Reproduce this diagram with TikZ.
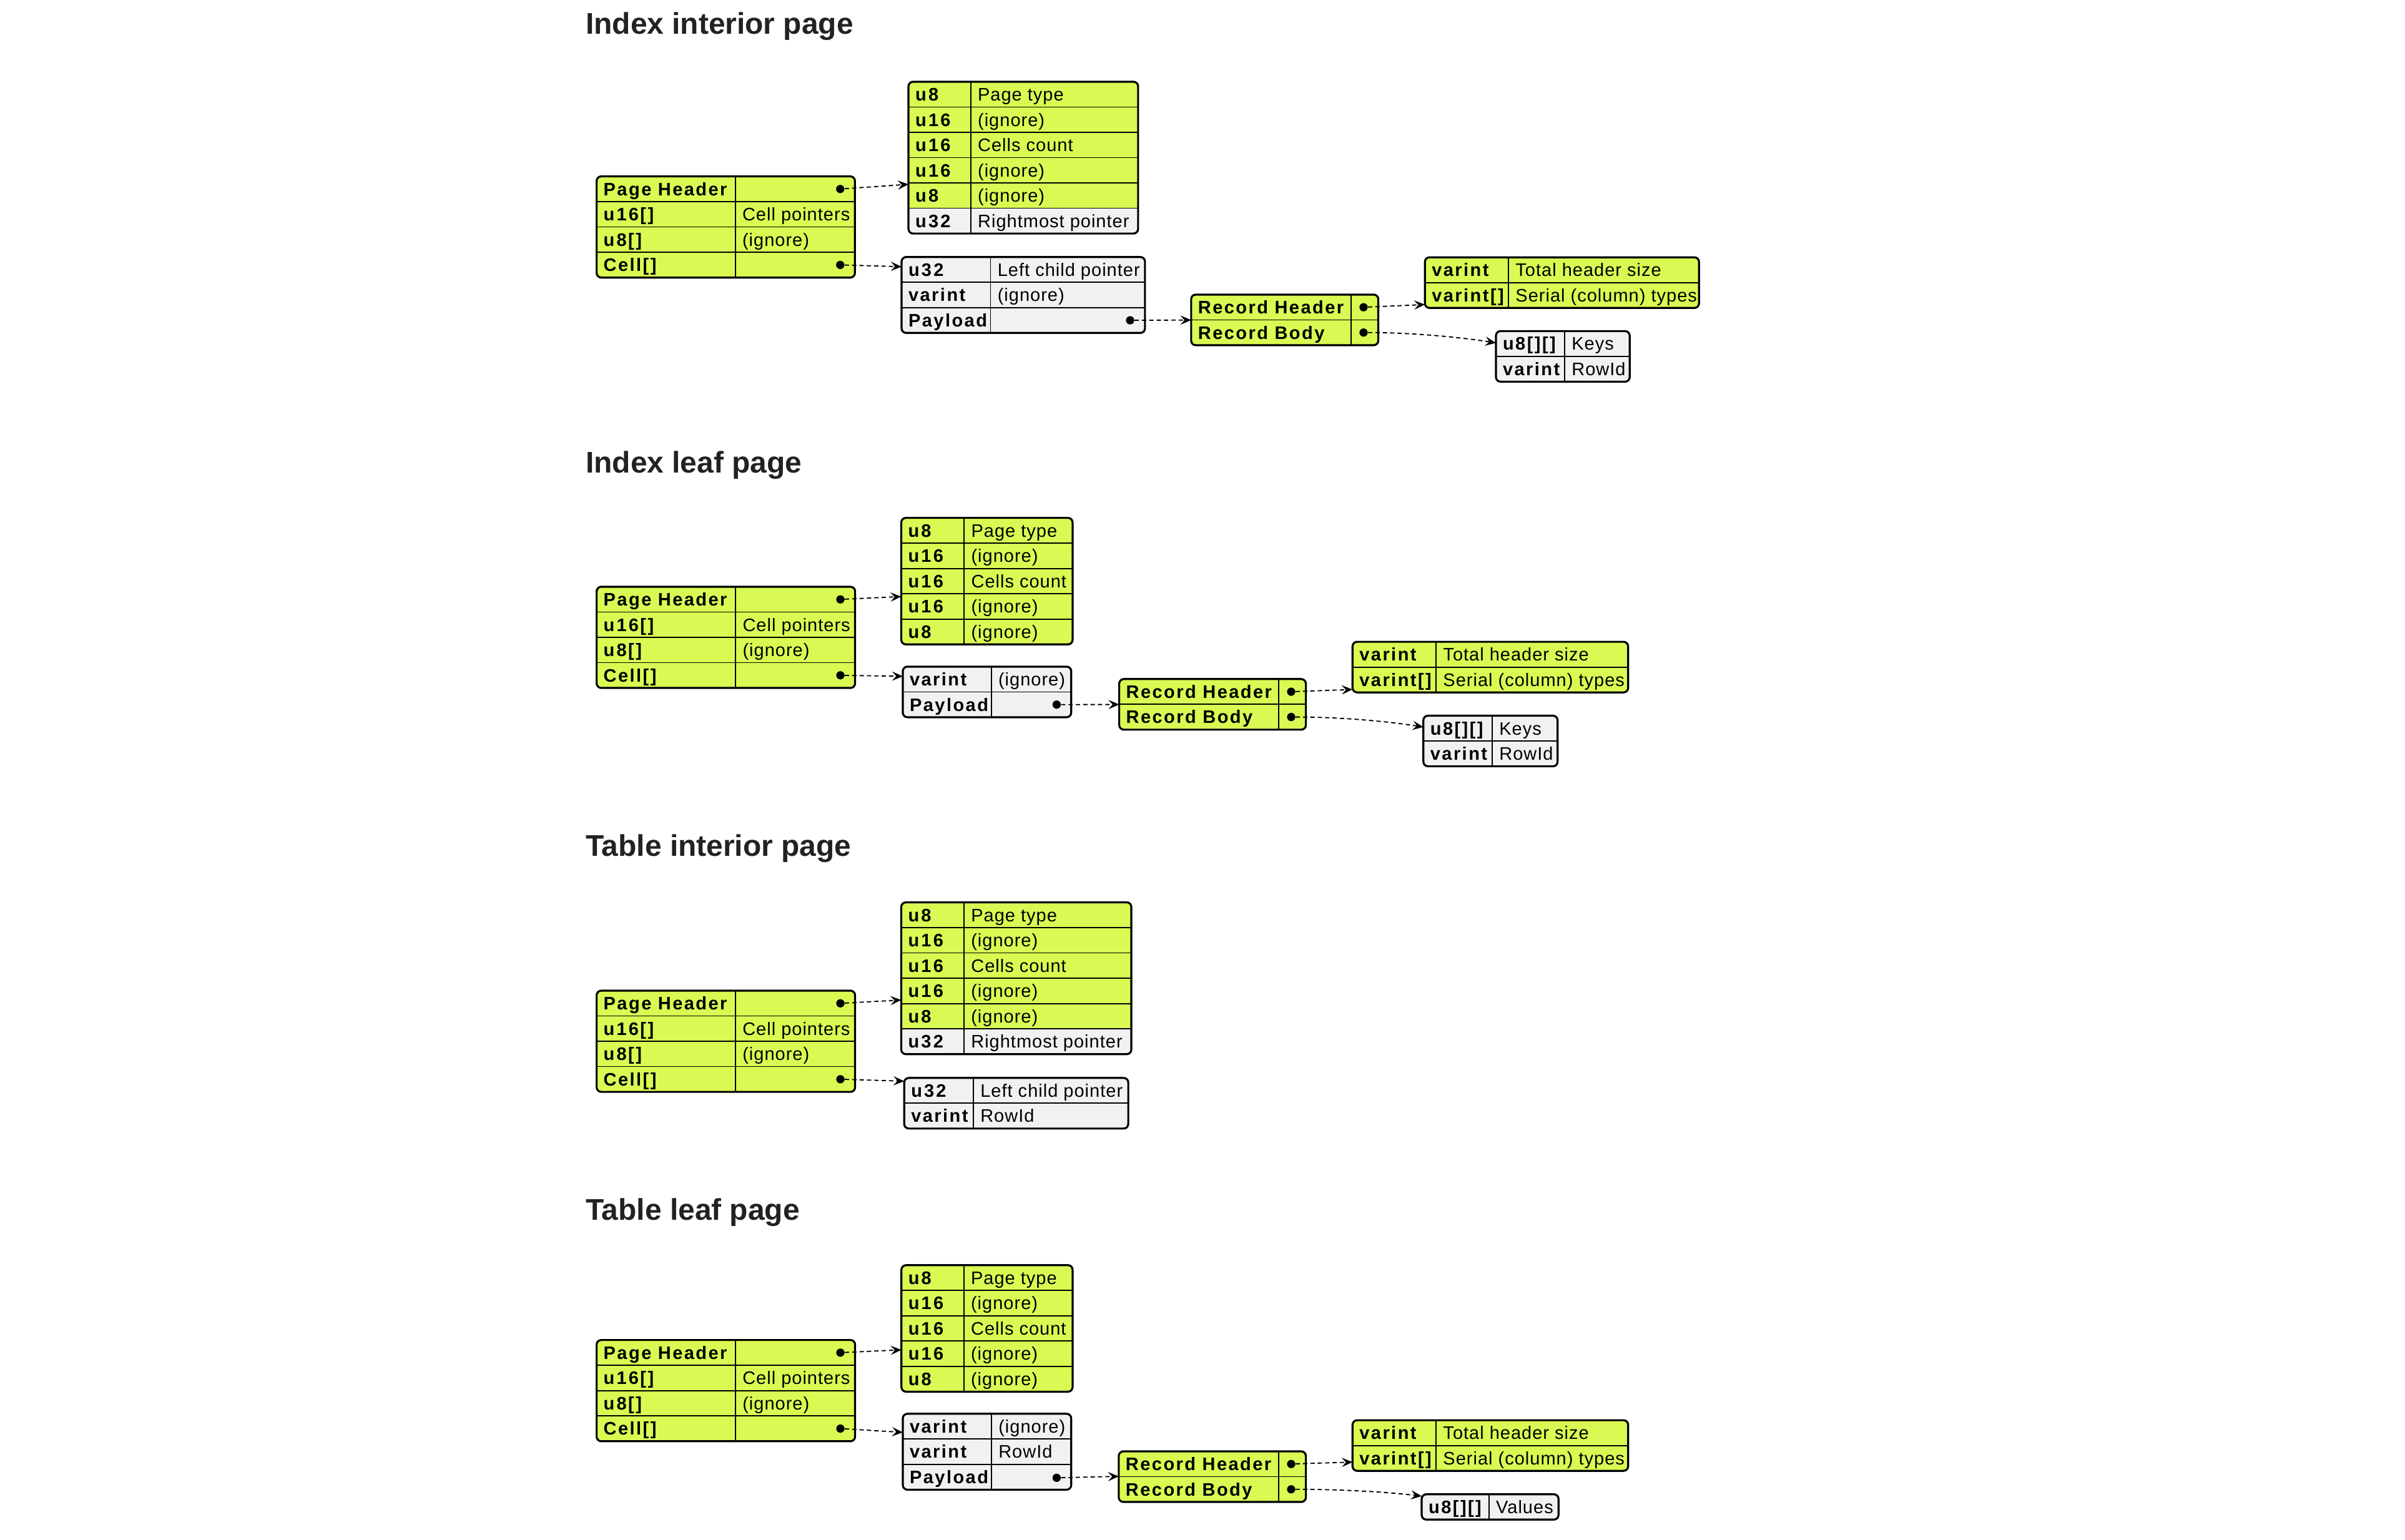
\documentclass[tikz,border=0pt]{standalone}
\usepackage{fontspec}
\setmainfont{Liberation Sans}
\newfontfamily\typefont{Liberation Sans}[LetterSpace=8.5]
\newfontfamily\valfont{Liberation Sans}[LetterSpace=3.5]
\usetikzlibrary{arrows.meta}

\definecolor{rowG}{HTML}{D9FA52}
\definecolor{rowW}{HTML}{F1F1F1}
\definecolor{titleink}{HTML}{222222}

\newcommand{\rowh}{16.5}
% extra tracking between the letters and digits of integer type names
\newcommand{\dk}{\kern1.3pt}

% record table: name, left, top, column divider, right, row count, rows (fill/type/value)
\newcommand{\rectab}[7]{%
  \pgfmathsetmacro{\tabbot}{#3+#6*\rowh}%
  \pgfmathsetmacro{\tabw}{#5-#2}%
  \pgfmathsetmacro{\tabh}{#6*\rowh}%
  \begin{scope}
    \clip[rounded corners=3pt] (#2,#3) rectangle (#5,\tabbot);
    \foreach \c/\t/\v [count=\i from 0] in {#7}{
      \fill[\c] (#2,#3+\i*\rowh) rectangle (#5,#3+\i*\rowh+\rowh);
    }
  \end{scope}
  \foreach \c/\t/\v [count=\i from 0] in {#7}{
    \ifnum\i>0 \draw[rowline] (#2,#3+\i*\rowh) -- (#5,#3+\i*\rowh);\fi
    \node[typetxt] at (#2+4.3,#3+\i*\rowh+12.45) {\t};
    \node[valtxt] at (#4+4.4,#3+\i*\rowh+12.45) {\v};
  }
  \draw[rowline] (#4,#3) -- (#4,\tabbot);
  \node[frame, minimum width=\tabw pt, minimum height=\tabh pt, anchor=north west] (#1) at (#2,#3) {};
}

\tikzset{
  rowline/.style={line width=0.7pt, draw=black},
  frame/.style={draw=black, line width=1.3pt, rounded corners=3pt, inner sep=0pt, outer sep=0pt, fill=none},
  typetxt/.style={anchor=base west, inner sep=0pt, font=\typefont\bfseries\fontsize{11.8}{12}\selectfont},
  valtxt/.style={anchor=base west, inner sep=0pt, font=\valfont\fontsize{11.8}{12}\selectfont},
  sectitle/.style={anchor=base west, inner sep=0pt, text=titleink, font=\bfseries\fontsize{19.5}{20}\selectfont},
  ptrdot/.style={circle, fill=black, inner sep=0pt, minimum size=5.4pt},
  ptr/.style={draw=black, line width=0.75pt, dash pattern=on 2.8pt off 2pt, -{Stealth[length=7pt, width=6pt, inset=2.7pt]}},
}

\begin{document}
\begin{tikzpicture}[x=1pt, y=-1pt]
\useasboundingbox (0,0) rectangle (1568,1004);

% ---------------- Index interior page ----------------
\node[sectitle] (t-a) at (381.7,22.3) {Index interior page};
\rectab{a-ph}{389}{115}{479.4}{557.4}{4}{rowG/Page Header/{}, rowG/u\dk1\dk6[]/Cell pointers, rowG/u\dk8[]/(ignore), rowG/Cell[]/{}}
\rectab{a-hdr}{592.3}{53.3}{632.9}{742}{6}{rowG/u\dk8/Page type, rowG/u\dk1\dk6/(ignore), rowG/u\dk1\dk6/Cells count, rowG/u\dk1\dk6/(ignore), rowG/u\dk8/(ignore), rowW/u\dk3\dk2/Rightmost pointer}
\rectab{a-cell}{587.8}{167.6}{645.8}{746.5}{3}{rowW/u\dk3\dk2/Left child pointer, rowW/varint/(ignore), rowW/Payload/{}}
\rectab{a-rec}{776.6}{192.1}{880.9}{898.6}{2}{rowG/Record Header/{}, rowG/Record Body/{}}
\rectab{a-hs}{929}{167.8}{983.5}{1107.7}{2}{rowG/varint/Total header size, rowG/varint[]/Serial (column) types}
\rectab{a-keys}{975.3}{215.9}{1020.1}{1062.5}{2}{rowW/u8[][]/Keys, rowW/varint/RowId}

\node[ptrdot] (a-phd) at (547.8,123.25) {};
\node[ptrdot] (a-celld) at (547.8,172.75) {};
\node[ptrdot] (a-payd) at (736.8,208.85) {};
\node[ptrdot] (a-rhd) at (889,200.35) {};
\node[ptrdot] (a-rbd) at (889,216.85) {};
\coordinate (a-hdr-in) at (592.3,120.2);
\coordinate (a-cell-in) at (587.8,173.9);
\coordinate (a-rec-in) at (776.6,208.7);
\coordinate (a-hs-in) at (929,198.6);
\coordinate (a-keys-in) at (975.3,223.6);
\draw[ptr] (a-phd) -- (a-hdr-in);
\draw[ptr] (a-celld) -- (a-cell-in);
\draw[ptr] (a-payd) -- (a-rec-in);
\draw[ptr] (a-rhd) -- (a-hs-in);
\draw[ptr] (a-rbd) .. controls +(30,0) and +(-25,-4) .. (a-keys-in);

% ---------------- Index leaf page ----------------
\node[sectitle] (t-b) at (381.7,308.3) {Index leaf page};
\rectab{b-ph}{389}{382.6}{479.6}{557.5}{4}{rowG/Page Header/{}, rowG/u\dk1\dk6[]/Cell pointers, rowG/u\dk8[]/(ignore), rowG/Cell[]/{}}
\rectab{b-hdr}{587.6}{337.7}{628.6}{699.3}{5}{rowG/u\dk8/Page type, rowG/u\dk1\dk6/(ignore), rowG/u\dk1\dk6/Cells count, rowG/u\dk1\dk6/(ignore), rowG/u\dk8/(ignore)}
\rectab{b-cell}{588.6}{434.7}{646.3}{698.4}{2}{rowW/varint/(ignore), rowW/Payload/{}}
\rectab{b-rec}{729.7}{442.8}{833.7}{851.4}{2}{rowG/Record Header/{}, rowG/Record Body/{}}
\rectab{b-hs}{881.8}{418.5}{936.3}{1061.5}{2}{rowG/varint/Total header size, rowG/varint[]/Serial (column) types}
\rectab{b-keys}{928}{466.7}{972.9}{1015.5}{2}{rowW/u8[][]/Keys, rowW/varint/RowId}

\node[ptrdot] (b-phd) at (547.9,390.85) {};
\node[ptrdot] (b-celld) at (547.9,440.35) {};
\node[ptrdot] (b-payd) at (688.9,459.45) {};
\node[ptrdot] (b-rhd) at (841.8,451.05) {};
\node[ptrdot] (b-rbd) at (841.8,467.55) {};
\coordinate (b-hdr-in) at (587.6,389);
\coordinate (b-cell-in) at (588.6,441);
\coordinate (b-rec-in) at (729.7,459.4);
\coordinate (b-hs-in) at (881.8,449.6);
\coordinate (b-keys-in) at (928,474.1);
\draw[ptr] (b-phd) -- (b-hdr-in);
\draw[ptr] (b-celld) -- (b-cell-in);
\draw[ptr] (b-payd) -- (b-rec-in);
\draw[ptr] (b-rhd) -- (b-hs-in);
\draw[ptr] (b-rbd) .. controls +(30,0) and +(-25,-4) .. (b-keys-in);

% ---------------- Table interior page ----------------
\node[sectitle] (t-c) at (381.7,558.3) {Table interior page};
\rectab{c-ph}{389}{646}{479.5}{557.5}{4}{rowG/Page Header/{}, rowG/u\dk1\dk6[]/Cell pointers, rowG/u\dk8[]/(ignore), rowG/Cell[]/{}}
\rectab{c-hdr}{587.6}{588.4}{628.5}{737.6}{6}{rowG/u\dk8/Page type, rowG/u\dk1\dk6/(ignore), rowG/u\dk1\dk6/Cells count, rowG/u\dk1\dk6/(ignore), rowG/u\dk8/(ignore), rowW/u\dk3\dk2/Rightmost pointer}
\rectab{c-cell}{589.5}{702.9}{634.6}{735.6}{2}{rowW/u\dk3\dk2/Left child pointer, rowW/varint/RowId}

\node[ptrdot] (c-phd) at (547.9,654.25) {};
\node[ptrdot] (c-celld) at (547.9,703.75) {};
\coordinate (c-hdr-in) at (587.6,652.1);
\coordinate (c-cell-in) at (589.5,705);
\draw[ptr] (c-phd) -- (c-hdr-in);
\draw[ptr] (c-celld) -- (c-cell-in);

% ---------------- Table leaf page ----------------
\node[sectitle] (t-d) at (381.7,795.6) {Table leaf page};
\rectab{d-ph}{389}{873.8}{479.5}{557.5}{4}{rowG/Page Header/{}, rowG/u\dk1\dk6[]/Cell pointers, rowG/u\dk8[]/(ignore), rowG/Cell[]/{}}
\rectab{d-hdr}{587.7}{825}{628.4}{699.3}{5}{rowG/u\dk8/Page type, rowG/u\dk1\dk6/(ignore), rowG/u\dk1\dk6/Cells count, rowG/u\dk1\dk6/(ignore), rowG/u\dk8/(ignore)}
\rectab{d-cell}{588.6}{921.9}{646.4}{698.4}{3}{rowW/varint/(ignore), rowW/varint/RowId, rowW/Payload/{}}
\rectab{d-rec}{729.4}{946.4}{833.7}{851.4}{2}{rowG/Record Header/{}, rowG/Record Body/{}}
\rectab{d-hs}{881.8}{926.1}{936.3}{1061.5}{2}{rowG/varint/Total header size, rowG/varint[]/Serial (column) types}
\rectab{d-vals}{926.9}{974.4}{970.8}{1016.1}{1}{rowW/u8[][]/Values}

\node[ptrdot] (d-phd) at (547.9,882.05) {};
\node[ptrdot] (d-celld) at (547.9,931.55) {};
\node[ptrdot] (d-payd) at (688.9,963.65) {};
\node[ptrdot] (d-rhd) at (841.8,954.65) {};
\node[ptrdot] (d-rbd) at (841.8,971.15) {};
\coordinate (d-hdr-in) at (587.7,880.2);
\coordinate (d-cell-in) at (588.6,934);
\coordinate (d-rec-in) at (729.4,962.7);
\coordinate (d-hs-in) at (881.8,953.4);
\coordinate (d-vals-in) at (926.9,975.6);
\draw[ptr] (d-phd) -- (d-hdr-in);
\draw[ptr] (d-celld) -- (d-cell-in);
\draw[ptr] (d-payd) -- (d-rec-in);
\draw[ptr] (d-rhd) -- (d-hs-in);
\draw[ptr] (d-rbd) .. controls +(30,0) and +(-25,-3) .. (d-vals-in);
\end{tikzpicture}
\end{document}
